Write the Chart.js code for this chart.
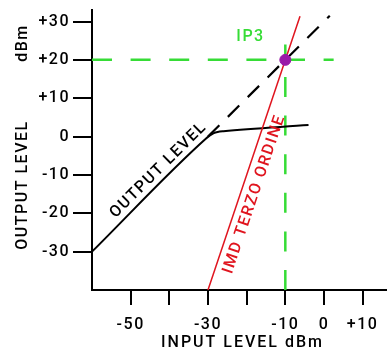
<!DOCTYPE html>
<html>
<head>
<meta charset="utf-8">
<script src="https://cdn.jsdelivr.net/npm/chart.js@4.4.1/dist/chart.umd.min.js"></script>
<style>
  html, body { margin: 0; padding: 0; background: #fff; }
</style>
</head>
<body>
<canvas id="ip3Chart" width="387" height="349"></canvas>
<script>
// output level curve (compression above -30 dBm input)
const outputX = [-60, -30.5, -29.5, -28.5, -27.5, -26, -4];
const outputY = [-30, -0.5, 0.3, 0.9, 1.2, 1.4, 3.0];
// ideal linear extrapolation
const linearX = [-30, 1.5];
const linearY = [0, 31.5];
// third order IMD, slope 3
const imdX = [-30, -6.2];
const imdY = [-40, 31.4];
// intercept point and its guide lines
const ip3X = [-10];
const ip3Y = [20];
const guideHX = [-60, 2.5];
const guideHY = [20, 20];
const guideVX = [-10, -10];
const guideVY = [-40, 24];

const yTicks = [-30, -20, -10, 0, 10, 20, 30];
const xTicks = [-50, -40, -30, -20, -10, 0, 10];
const xLabeled = [-50, -30, -10, 0, 10];

const FONT = 'Roboto, "Liberation Sans", Arial, sans-serif';
const GREEN = '#36dc36';
const RED = '#e0141e';
const PURPLE = '#9a1aa8';

function pts(xs, ys) {
    return xs.map((x, i) => ({ x, y: ys[i] }));
}

function signed(v) {
    return v > 0 ? '+' + v : String(v);
}

function labelAlong(chart, text, from, to, atX, offset, color) {
    const xs = chart.scales.x, ys = chart.scales.y;
    const ctx = chart.ctx;
    const x1 = xs.getPixelForValue(from[0]), y1 = ys.getPixelForValue(from[1]);
    const x2 = xs.getPixelForValue(to[0]), y2 = ys.getPixelForValue(to[1]);
    const ang = Math.atan2(y2 - y1, x2 - x1);
    const t = (atX - from[0]) / (to[0] - from[0]);
    const ax = x1 + (x2 - x1) * t, ay = y1 + (y2 - y1) * t;
    // "up" direction of the rotated text
    const ux = Math.sin(ang), uy = -Math.cos(ang);
    ctx.save();
    ctx.translate(ax + ux * offset, ay + uy * offset);
    ctx.rotate(ang);
    ctx.fillStyle = color;
    ctx.textAlign = 'center';
    ctx.textBaseline = 'alphabetic';
    ctx.fillText(text, 0, 0);
    ctx.restore();
}

const textPlugin = {
    id: 'ip3Text',
    beforeDraw(chart) {
        chart.ctx.letterSpacing = '1.5px';
    },
    afterDraw(chart) {
        const ctx = chart.ctx;
        const area = chart.chartArea;
        ctx.save();
        ctx.font = '500 16px ' + FONT;
        ctx.letterSpacing = '2px';
        ctx.fillStyle = '#000';
        ctx.textAlign = 'center';
        ctx.textBaseline = 'alphabetic';
        ctx.fillText('INPUT LEVEL dBm', (area.left + area.right) / 2 + 3, chart.height - 2);

        ctx.letterSpacing = '1.5px';
        ctx.save();
        ctx.translate(27, 185);
        ctx.rotate(-Math.PI / 2);
        ctx.fillText('OUTPUT LEVEL', 0, 0);
        ctx.restore();
        ctx.save();
        ctx.translate(27, 43);
        ctx.rotate(-Math.PI / 2);
        ctx.fillText('dBm', 0, 0);
        ctx.restore();

        ctx.fillStyle = GREEN;
        ctx.fillText('IP3', chart.scales.x.getPixelForValue(-19), chart.scales.y.getPixelForValue(24.8));

        labelAlong(chart, 'OUTPUT LEVEL', [outputX[0], outputY[0]], [linearX[0], linearY[0]], -40.8, 7, '#000');
        labelAlong(chart, 'IMD TERZO ORDINE', [imdX[0], imdY[0]], [imdX[1], imdY[1]], -21.3, -17.5, RED);
        ctx.restore();
    }
};

new Chart(document.getElementById('ip3Chart'), {
    type: 'line',
    data: {
        datasets: [
            {
                label: 'IP3',
                data: pts(ip3X, ip3Y),
                showLine: false,
                pointRadius: 5.5,
                pointBackgroundColor: PURPLE,
                pointBorderColor: PURPLE
            },
            {
                label: 'IMD',
                data: pts(imdX, imdY),
                borderColor: RED,
                borderWidth: 1.5,
                pointRadius: 0
            },
            {
                label: 'Output',
                data: pts(outputX, outputY),
                borderColor: '#000',
                borderWidth: 2,
                pointRadius: 0,
                cubicInterpolationMode: 'monotone'
            },
            {
                label: 'Linear',
                data: pts(linearX, linearY),
                borderColor: '#000',
                borderWidth: 2.2,
                borderDash: [16, 12],
                pointRadius: 0
            },
            {
                label: 'Guide H',
                data: pts(guideHX, guideHY),
                borderColor: GREEN,
                borderWidth: 2.5,
                borderDash: [20, 18.6],
                pointRadius: 0
            },
            {
                label: 'Guide V',
                data: pts(guideVX, guideVY),
                borderColor: GREEN,
                borderWidth: 2.5,
                borderDash: [20, 18.6],
                pointRadius: 0
            }
        ]
    },
    options: {
        responsive: false,
        animation: false,
        layout: { autoPadding: false, padding: { top: 10, left: 0, right: 0, bottom: 0 } },
        plugins: {
            legend: { display: false },
            tooltip: { enabled: false }
        },
        scales: {
            x: {
                type: 'linear',
                min: -60,
                max: 16.3,
                afterBuildTicks: s => { s.ticks = xTicks.map(v => ({ value: v })); },
                afterFit: s => {
                    s.height = 59;
                    s.paddingLeft = 0;
                    s.paddingRight = 0;
                },
                border: { display: true, color: '#000', width: 2 },
                grid: { drawOnChartArea: false, drawTicks: true, tickLength: 15, color: '#000', lineWidth: 2 },
                ticks: {
                    color: '#000',
                    font: { family: FONT, size: 16, weight: '500' },
                    padding: 10,
                    maxRotation: 0,
                    autoSkip: false,
                    callback: v => xLabeled.includes(v) ? signed(v) : ''
                }
            },
            y: {
                type: 'linear',
                min: -40,
                max: 33,
                afterBuildTicks: s => { s.ticks = yTicks.map(v => ({ value: v })); },
                afterFit: s => {
                    s.width = 92;
                    s.paddingTop = 0;
                    s.paddingBottom = 0;
                },
                border: { display: true, color: '#000', width: 2 },
                grid: { drawOnChartArea: false, drawTicks: true, tickLength: 19, color: '#000', lineWidth: 2 },
                ticks: {
                    color: '#000',
                    font: { family: FONT, size: 16, weight: '500' },
                    padding: 3,
                    autoSkip: false,
                    callback: v => signed(v)
                }
            }
        }
    },
    plugins: [textPlugin]
});
</script>
</body>
</html>
